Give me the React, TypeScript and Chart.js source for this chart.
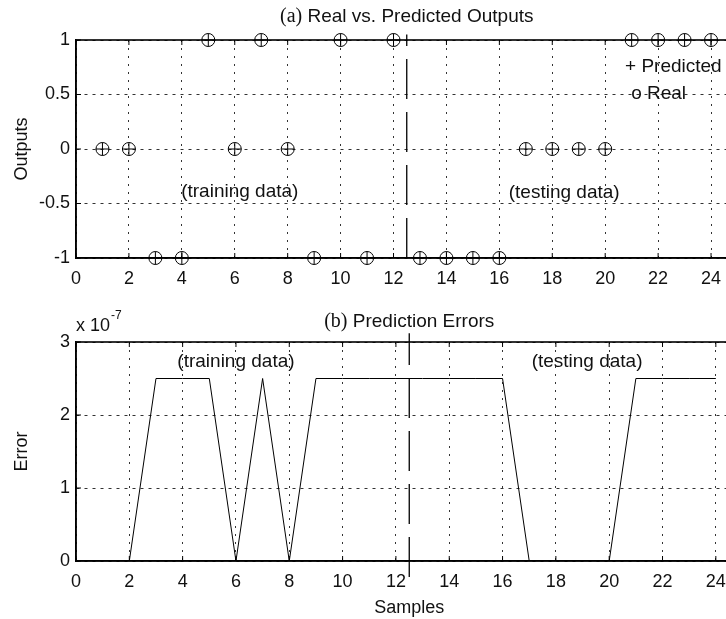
import React, { useEffect, useRef } from 'react';
import { Chart, registerables } from 'chart.js';

Chart.register(...registerables);

// ---------- data ----------
const samples = [1, 2, 3, 4, 5, 6, 7, 8, 9, 10, 11, 12, 13, 14, 15, 16, 17, 18, 19, 20, 21, 22, 23, 24];
const realOutputs = [0, 0, -1, -1, 1, 0, 1, 0, -1, 1, -1, 1, -1, -1, -1, -1, 0, 0, 0, 0, 1, 1, 1, 1];
const predictedOutputs = [0, 0, -1, -1, 1, 0, 1, 0, -1, 1, -1, 1, -1, -1, -1, -1, 0, 0, 0, 0, 1, 1, 1, 1];
const predictionErrors = [
  0, 0, 2.5e-7, 2.5e-7, 2.5e-7, 0, 2.5e-7, 0, 2.5e-7, 2.5e-7, 2.5e-7, 2.5e-7,
  2.5e-7, 2.5e-7, 2.5e-7, 2.5e-7, 0, 0, 0, 0, 2.5e-7, 2.5e-7, 2.5e-7, 2.5e-7,
];
const xTicks = [0, 2, 4, 6, 8, 10, 12, 14, 16, 18, 20, 22, 24];
const outputTicks = [-1, -0.5, 0, 0.5, 1];
const errorTicks = [0, 1e-7, 2e-7, 3e-7];
const errorExponent = 1e-7;
const splitSample = 12.5;
const splitOutputRange = [-1, 1.05];
const splitErrorRange = [-0.22e-7, 3.12e-7];
const xRange = [0, 25];
const outputRange = [-1, 1];
const errorRange = [0, 3e-7];

type Note = { text: string; x: number; y: number; align: CanvasTextAlign };

const outputNotes: Note[] = [
  { text: '(training data)', x: 6.19, y: -0.39, align: 'center' },
  { text: '(testing data)', x: 18.45, y: -0.4, align: 'center' },
  { text: '+ Predicted', x: 20.75, y: 0.75, align: 'left' },
  { text: 'o Real', x: 20.98, y: 0.51, align: 'left' },
];
const errorNotes: Note[] = [
  { text: '(training data)', x: 6.0, y: 2.73e-7, align: 'center' },
  { text: '(testing data)', x: 19.17, y: 2.73e-7, align: 'center' },
];

const SANS = '"Liberation Sans", Arial, Helvetica, sans-serif';
const SERIF = '"Liberation Serif", "Times New Roman", serif';
const FS = 18;
const NOTE_FS = 19;
const TEXT = '#111';
const GRID = 'rgba(0,0,0,0.8)';

function makePlugin(prefix: string, rest: string, titleGap: number, notes: Note[], exponent: boolean) {
  return {
    id: 'matlabFrame',
    afterDraw(chart: any) {
      const { ctx, chartArea: a, scales } = chart;
      const xs = scales.x;
      const ys = scales.y;
      const line = (x1: number, y1: number, x2: number, y2: number) => {
        ctx.beginPath();
        ctx.moveTo(x1, y1);
        ctx.lineTo(x2, y2);
        ctx.stroke();
      };
      ctx.save();
      ctx.strokeStyle = '#000';
      ctx.setLineDash([]);
      ctx.lineWidth = 1.6;
      ctx.strokeRect(a.left, a.top, a.right - a.left, a.bottom - a.top);
      ctx.lineWidth = 1;
      xTicks.forEach((v) => {
        const px = xs.getPixelForValue(v);
        line(px, a.bottom, px, a.bottom - 5);
        line(px, a.top, px, a.top + 5);
      });
      ys.ticks.forEach((t: any) => {
        const py = ys.getPixelForValue(t.value);
        line(a.left, py, a.left + 5, py);
      });
      // title
      ctx.fillStyle = TEXT;
      ctx.textBaseline = 'middle';
      ctx.textAlign = 'left';
      ctx.font = `${NOTE_FS + 1}px ${SERIF}`;
      const w1 = ctx.measureText(prefix).width;
      ctx.font = `${NOTE_FS}px ${SANS}`;
      const w2 = ctx.measureText(rest).width;
      const cx = (a.left + a.right) / 2;
      const ty = a.top - titleGap;
      const sx = cx - (w1 + w2) / 2;
      ctx.font = `${NOTE_FS + 1}px ${SERIF}`;
      ctx.fillText(prefix, sx, ty);
      ctx.font = `${NOTE_FS}px ${SANS}`;
      ctx.fillText(rest, sx + w1, ty);
      // notes
      notes.forEach((n) => {
        ctx.textAlign = n.align;
        ctx.fillText(n.text, xs.getPixelForValue(n.x), ys.getPixelForValue(n.y));
      });
      if (exponent) {
        ctx.textAlign = 'left';
        ctx.font = `${FS}px ${SANS}`;
        const base = 'x 10';
        ctx.fillText(base, a.left, a.top - 16);
        const bw = ctx.measureText(base).width;
        ctx.font = `12px ${SANS}`;
        ctx.fillText('-7', a.left + bw + 1, a.top - 26);
      }
      ctx.restore();
    },
  };
}

function xScale(height: number, withTitle: boolean) {
  return {
    type: 'linear',
    min: xRange[0],
    max: xRange[1],
    afterBuildTicks: (s: any) => {
      s.ticks = xTicks.map((v) => ({ value: v }));
    },
    afterFit: (s: any) => {
      s.height = height;
    },
    ticks: {
      autoSkip: false,
      maxRotation: 0,
      padding: 10,
      color: TEXT,
      font: { family: SANS, size: FS },
      callback: (v: any) => String(v),
    },
    grid: { display: true, drawTicks: false, color: GRID, lineWidth: 1 },
    border: { display: true, color: '#000', width: 1.5, dash: [2, 6] },
    title: withTitle
      ? { display: true, text: 'Samples', color: TEXT, font: { family: SANS, size: FS }, padding: { top: 0, bottom: 0 } }
      : { display: false },
  };
}

function yScale(range: number[], ticks: number[], label: string, fmt: (v: number) => string) {
  return {
    type: 'linear',
    min: range[0],
    max: range[1],
    afterBuildTicks: (s: any) => {
      s.ticks = ticks.map((v) => ({ value: v }));
    },
    afterFit: (s: any) => {
      s.width = 76;
    },
    ticks: {
      padding: 6,
      color: TEXT,
      font: { family: SANS, size: FS },
      callback: (v: any) => fmt(Number(v)),
    },
    grid: { display: true, drawTicks: false, color: GRID, lineWidth: 1 },
    border: { display: true, color: '#000', width: 1.5, dash: [3, 5] },
    title: { display: true, text: label, color: TEXT, font: { family: SANS, size: FS }, padding: { top: 11, bottom: 0 } },
  };
}

const W = 745;

const App: React.FC = () => {
  const topRef = useRef<HTMLCanvasElement | null>(null);
  const botRef = useRef<HTMLCanvasElement | null>(null);

  useEffect(() => {
    if (!topRef.current || !botRef.current) return;
    const top = new Chart(topRef.current, {
      type: 'scatter',
      data: {
        datasets: [
          {
            label: 'Split',
            data: splitOutputRange.map((y) => ({ x: splitSample, y })),
            showLine: true,
            borderColor: '#000',
            borderWidth: 1.3,
            borderDash: [40, 13],
            pointRadius: 0,
            clip: false,
          } as any,
          {
            label: 'Real',
            data: realOutputs.map((y, i) => ({ x: samples[i], y })),
            pointStyle: 'circle',
            pointRadius: 6.5,
            borderColor: '#000',
            backgroundColor: 'rgba(0,0,0,0)',
            borderWidth: 1,
            clip: false,
          } as any,
          {
            label: 'Predicted',
            data: predictedOutputs.map((y, i) => ({ x: samples[i], y })),
            pointStyle: 'cross',
            pointRadius: 6.5,
            borderColor: '#000',
            borderWidth: 1,
            clip: false,
          } as any,
        ],
      },
      options: {
        responsive: false,
        animation: false,
        devicePixelRatio: 1,
        layout: { padding: { top: 40, left: 0, right: 2.5, bottom: 0 } },
        plugins: { legend: { display: false }, tooltip: { enabled: false }, title: { display: false } },
        scales: {
          x: xScale(37, false),
          y: yScale(outputRange, outputTicks, 'Outputs', (v) => String(v)),
        } as any,
      },
      plugins: [makePlugin('(a)', ' Real vs. Predicted Outputs', 23, outputNotes, false)],
    });

    const bot = new Chart(botRef.current, {
      type: 'scatter',
      data: {
        datasets: [
          {
            label: 'Split',
            data: splitErrorRange.map((y) => ({ x: splitSample, y })),
            showLine: true,
            borderColor: '#000',
            borderWidth: 1.3,
            borderDash: [40, 13],
            pointRadius: 0,
            clip: false,
          } as any,
          {
            label: 'Error',
            data: predictionErrors.map((y, i) => ({ x: samples[i], y })),
            showLine: true,
            borderColor: '#000',
            borderWidth: 1,
            pointRadius: 0,
            tension: 0,
          } as any,
        ],
      },
      options: {
        responsive: false,
        animation: false,
        devicePixelRatio: 1,
        layout: { padding: { top: 47, left: 0, right: 2.5, bottom: 0 } },
        plugins: { legend: { display: false }, tooltip: { enabled: false }, title: { display: false } },
        scales: {
          x: xScale(58, true),
          y: yScale(errorRange, errorTicks, 'Error', (v) => String(Math.round(v / errorExponent))),
        } as any,
      },
      plugins: [makePlugin('(b)', ' Prediction Errors', 20, errorNotes, true)],
    });

    return () => {
      top.destroy();
      bot.destroy();
    };
  }, []);

  return (
    <div
      style={{
        position: 'absolute',
        left: 0,
        top: 0,
        width: 726,
        height: 619,
        overflow: 'hidden',
        background: '#fff',
      }}
    >
      <canvas ref={topRef} width={W} height={295} style={{ position: 'absolute', left: 0, top: 0, width: W, height: 295 }} />
      <canvas ref={botRef} width={W} height={324} style={{ position: 'absolute', left: 0, top: 295, width: W, height: 324 }} />
    </div>
  );
};

export default App;
